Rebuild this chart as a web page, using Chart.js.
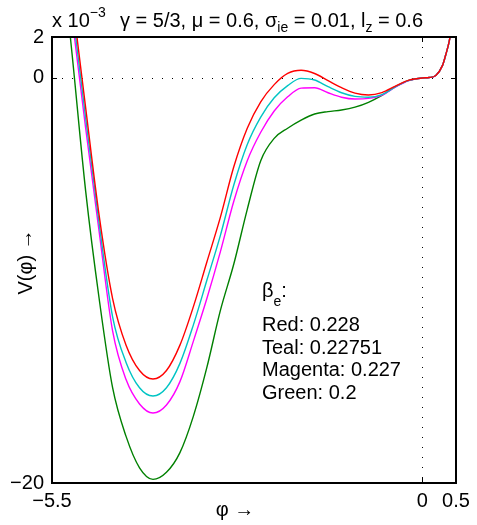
<!DOCTYPE html>
<html>
<head>
<meta charset="utf-8">
<script src="https://cdn.jsdelivr.net/npm/chart.js@4.4.1/dist/chart.umd.min.js"></script>
<style>
  html, body { margin: 0; padding: 0; background: #fff; }
  canvas { display: block; }
</style>
</head>
<body>
<canvas id="mycanvas" width="477" height="525"></canvas>
<script>
// phi values (x axis)
var phi = [-5.4,-5.2,-5.0,-4.8,-4.6,-4.4,-4.2,-4.0,-3.8,-3.6,-3.4,-3.2,-3.0,-2.8,-2.6,-2.4,-2.2,-2.0,-1.8,-1.6,-1.4,-1.2,-1.0,-0.8,-0.6,-0.4,-0.2,0,0.1,0.2,0.3,0.35,0.4,0.45,0.5];

// V(phi) in units of 1e-3
var red     = [9.5,3.9,-1.5,-6.8,-10.9,-13.2,-14.45,-14.87,-14.45,-13.2,-11.3,-9.1,-6.9,-4.4,-2.5,-1.2,-0.35,0.2,0.36,0.2,-0.15,-0.5,-0.77,-0.86,-0.74,-0.42,-0.13,-0.02,0.0,0.1,0.6,1.15,1.8,2.8,4.0];
var teal    = [9.0,3.4,-2.0,-7.2,-11.8,-14.05,-15.3,-15.71,-15.3,-14.1,-12.2,-10.0,-7.8,-5.3,-3.3,-1.95,-1.0,-0.4,-0.04,-0.12,-0.45,-0.75,-0.93,-0.97,-0.84,-0.46,-0.14,-0.02,0.0,0.1,0.6,1.15,1.8,2.8,4.0];
var magenta = [8.5,2.9,-2.5,-7.6,-12.5,-14.9,-16.1,-16.55,-16.15,-15.0,-13.0,-10.9,-8.6,-6.1,-4.1,-2.7,-1.65,-0.95,-0.52,-0.5,-0.75,-0.97,-1.06,-1.03,-0.87,-0.47,-0.15,-0.02,0.0,0.1,0.6,1.15,1.8,2.8,4.0];
var green   = [7.6,1.1,-5.6,-10.9,-15.3,-17.7,-19.25,-19.82,-19.47,-18.5,-16.7,-14.3,-11.5,-9.2,-6.5,-4.1,-3.0,-2.5,-2.1,-1.8,-1.68,-1.6,-1.46,-1.22,-0.88,-0.45,-0.14,-0.02,0.0,0.1,0.6,1.15,1.8,2.8,4.0];

var xTicks = [-5.5, 0, 0.5];
var xTickLabels = ['\u22125.5', '0', '0.5'];
var yTicks = [-20, 0, 2];
var yTickLabels = ['\u221220', '0', '2'];

var legendLines = ['Red: 0.228', 'Teal: 0.22751', 'Magenta: 0.227', 'Green: 0.2'];

var FONT = '"Liberation Sans", Arial, Helvetica, sans-serif';

function pts(arr) {
	var out = [];
	for (var i = 0; i < phi.length; i++) {
		out.push({x: phi[i], y: arr[i]});
	}
	return out;
}

function ds(label, arr, color) {
	return {
		label: label,
		data: pts(arr),
		borderColor: color,
		backgroundColor: color,
		borderWidth: 1.4,
		pointRadius: 0,
		fill: false,
		cubicInterpolationMode: 'monotone'
	};
}

// draws text pieces one after another, sub/superscripts in a smaller font
function drawRich(ctx, x, y, parts) {
	for (var i = 0; i < parts.length; i++) {
		var p = parts[i];
		var size = p.small ? 14 : 20;
		ctx.font = size + 'px ' + FONT;
		ctx.fillText(p.t, x, y + (p.dy || 0));
		x += ctx.measureText(p.t).width;
	}
}

var decor = {
	id: 'decor',
	beforeDatasetsDraw: function(chart) {
		var ctx = chart.ctx, a = chart.chartArea;
		var xs = chart.scales.x, ys = chart.scales.y;
		var x0 = Math.round(xs.getPixelForValue(0)) + 0.5;
		var y0 = Math.round(ys.getPixelForValue(0)) + 0.5;
		ctx.save();
		ctx.strokeStyle = '#000';
		ctx.lineWidth = 1;
		ctx.setLineDash([1, 9]);
		ctx.beginPath();
		ctx.moveTo(a.left, y0); ctx.lineTo(a.right, y0);
		ctx.moveTo(x0, a.top); ctx.lineTo(x0, a.bottom);
		ctx.stroke();
		ctx.restore();
	},
	afterDraw: function(chart) {
		var ctx = chart.ctx, a = chart.chartArea;
		var xs = chart.scales.x, ys = chart.scales.y;
		ctx.save();
		// box
		ctx.strokeStyle = '#000';
		ctx.lineWidth = 2;
		ctx.strokeRect(a.left, a.top, a.right - a.left, a.bottom - a.top);
		// inward ticks
		ctx.lineWidth = 1;
		ctx.beginPath();
		var tx = Math.round(xs.getPixelForValue(0)) + 0.5;
		ctx.moveTo(tx, a.bottom); ctx.lineTo(tx, a.bottom - 5);
		ctx.moveTo(tx, a.top); ctx.lineTo(tx, a.top + 5);
		var ty = Math.round(ys.getPixelForValue(0)) + 0.5;
		ctx.moveTo(a.left, ty); ctx.lineTo(a.left + 5, ty);
		ctx.moveTo(a.right, ty); ctx.lineTo(a.right - 5, ty);
		ctx.stroke();

		ctx.fillStyle = '#000';
		ctx.textAlign = 'left';
		ctx.textBaseline = 'alphabetic';
		// exponent
		drawRich(ctx, 52, 27, [{t: 'x 10'}, {t: '\u22123', small: true, dy: -10}]);
		// title
		drawRich(ctx, 120, 27, [
			{t: '\u03b3 = 5/3, \u03bc = 0.6, \u03c3'},
			{t: 'ie', small: true, dy: 5},
			{t: ' = 0.01, l'},
			{t: 'z', small: true, dy: 5},
			{t: ' = 0.6'}
		]);
		// legend text
		drawRich(ctx, 262, 297, [{t: '\u03b2'}, {t: 'e', small: true, dy: 9}, {t: ':'}]);
		ctx.font = '20px ' + FONT;
		for (var i = 0; i < legendLines.length; i++) {
			ctx.fillText(legendLines[i], 262, 331 + i * 22.7);
		}
		// axis titles
		ctx.textAlign = 'center';
		ctx.fillText('\u03c6 \u2192', 235, 516);
		ctx.translate(32, 262);
		ctx.rotate(-Math.PI / 2);
		ctx.fillText('V(\u03c6) \u2192', 0, 0);
		ctx.restore();
	}
};

var ctx = document.getElementById('mycanvas');

var LineGraph = new Chart(ctx, {
	type: 'line',
	data: {
		datasets: [
			ds('Red', red, '#ff0000'),
			ds('Teal', teal, '#00c4c4'),
			ds('Magenta', magenta, '#ff00ff'),
			ds('Green', green, '#008000')
		]
	},
	options: {
		responsive: false,
		animation: false,
		devicePixelRatio: 1,
		layout: { padding: { top: 37, right: 21, left: 0, bottom: 0 } },
		plugins: {
			legend: { display: false },
			tooltip: { enabled: false }
		},
		scales: {
			x: {
				type: 'linear',
				min: -5.5,
				max: 0.5,
				afterBuildTicks: function(s) {
					s.ticks = xTicks.map(function(v) { return {value: v}; });
				},
				afterFit: function(s) { s.height = 42; },
				grid: { display: false, drawTicks: false },
				border: { display: false },
				ticks: {
					autoSkip: false,
					maxRotation: 0,
					padding: 6,
					color: '#000',
					font: { family: FONT, size: 20 },
					callback: function(v) {
						var i = xTicks.indexOf(v);
						return i >= 0 ? xTickLabels[i] : '';
					}
				}
			},
			y: {
				type: 'linear',
				min: -20,
				max: 2,
				afterBuildTicks: function(s) {
					s.ticks = yTicks.map(function(v) { return {value: v}; });
				},
				afterFit: function(s) { s.width = 52; },
				grid: { display: false, drawTicks: false },
				border: { display: false },
				ticks: {
					padding: 8,
					color: '#000',
					font: { family: FONT, size: 20 },
					callback: function(v) {
						var i = yTicks.indexOf(v);
						return i >= 0 ? yTickLabels[i] : '';
					}
				}
			}
		}
	},
	plugins: [decor]
});
</script>
</body>
</html>
